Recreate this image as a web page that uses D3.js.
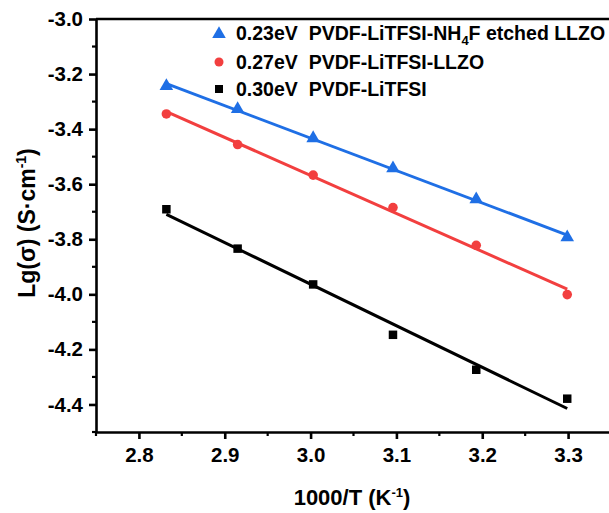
<!DOCTYPE html>
<meta charset="utf-8">
<style>
body { margin: 0; background: #fff; }
svg { font-family: "Liberation Sans", Arial, sans-serif; font-weight: bold; }
.axis path, .axis line { stroke: #000; stroke-width: 2.6; }
.axis text { font-size: 20.5px; font-weight: bold; fill: #000; }
.minor line { stroke: #000; stroke-width: 2.2; }
.fit { fill: none; stroke-width: 3; }
.legend text { font-size: 19.5px; white-space: pre; }
</style>
<svg width="609" height="513"></svg>
<script src="https://cdn.jsdelivr.net/npm/d3@7/dist/d3.min.js"></script>
<script>

var invT = [2.832, 2.915, 3.003, 3.096, 3.193, 3.299];

var etched = [-3.244, -3.327, -3.433, -3.542, -3.655, -3.793];
var llzo   = [-3.345, -3.456, -3.567, -3.685, -3.822, -4.001];
var bare   = [-3.691, -3.834, -3.964, -4.147, -4.274, -4.379];

var seriesNames = ["etched", "llzo", "bare"];
var energies = ["0.23eV", "0.27eV", "0.30eV"];
var labels = ["PVDF-LiTFSI-NH|4|F etched LLZO", "PVDF-LiTFSI-LLZO", "PVDF-LiTFSI"];
var colors = ["#1f6fe5", "#f23f3f", "#000000"];
var shapes = [d3.symbolTriangle, d3.symbolCircle, d3.symbolSquare];

var xTicks = [2.8, 2.9, 3.0, 3.1, 3.2, 3.3];
var yTicks = [-3.0, -3.2, -3.4, -3.6, -3.8, -4.0, -4.2, -4.4];

var svg = d3.select("svg");

var x = d3.scaleLinear().domain([2.75, 3.35]).range([96, 611]);
var y = d3.scaleLinear().domain([-4.5, -3.0]).range([432, 19]);

var series = [etched, llzo, bare];

// frame: top and right lines
svg.append("line").attr("x1", x.range()[0]).attr("x2", x.range()[1])
    .attr("y1", y(-3.0)).attr("y2", y(-3.0))
    .attr("stroke", "#000").attr("stroke-width", 2.6);
svg.append("line").attr("x1", x.range()[1]).attr("x2", x.range()[1])
    .attr("y1", y.range()[0]).attr("y2", y.range()[1])
    .attr("stroke", "#000").attr("stroke-width", 2.6);

// minor ticks
svg.append("g").attr("class", "minor")
    .selectAll("line")
    .data(d3.range(2.75, 3.36, 0.1))
  .enter().append("line")
    .attr("x1", function(d) { return x(d); })
    .attr("x2", function(d) { return x(d); })
    .attr("y1", y.range()[0]).attr("y2", y.range()[0] + 4);
svg.append("g").attr("class", "minor")
    .selectAll("line")
    .data(d3.range(-4.5, -3.0, 0.2))
  .enter().append("line")
    .attr("y1", function(d) { return y(d); })
    .attr("y2", function(d) { return y(d); })
    .attr("x1", x.range()[0]).attr("x2", x.range()[0] - 4);

svg.append("g").attr("class", "axis")
    .attr("transform", "translate(0," + y.range()[0] + ")")
    .call(d3.axisBottom(x).tickValues(xTicks).tickSize(7).tickPadding(8)
      .tickSizeOuter(0).tickFormat(d3.format(".1f")));

svg.append("g").attr("class", "axis")
    .attr("transform", "translate(" + x.range()[0] + ",0)")
    .call(d3.axisLeft(y).tickValues(yTicks).tickSize(7).tickPadding(6)
      .tickSizeOuter(0).tickFormat(function(d) { return d3.format(".1f")(d).replace("−", "-"); }));

// fit lines (least squares)
function fit(ys) {
  var mx = d3.mean(invT), my = d3.mean(ys), sxy = 0, sxx = 0;
  invT.forEach(function(v, i) { sxy += (v - mx) * (ys[i] - my); sxx += (v - mx) * (v - mx); });
  var b = sxy / sxx;
  return [invT[0], invT[invT.length - 1]].map(function(v) { return [v, my + b * (v - mx)]; });
}

var line = d3.line().x(function(d) { return x(d[0]); }).y(function(d) { return y(d[1]); });

series.forEach(function(ys, k) {
  svg.append("path").attr("class", "fit")
      .attr("stroke", colors[k])
      .attr("d", line(fit(ys)));
  svg.append("g").selectAll("path")
      .data(ys)
    .enter().append("path")
      .attr("transform", function(d, i) { return "translate(" + x(invT[i]) + "," + y(d) + ")"; })
      .attr("fill", colors[k])
      .attr("d", d3.symbol().type(shapes[k]).size(k == 0 ? 80 : 72));
});

// legend
var legendY = [33, 62, 89];
var lg = svg.append("g").attr("class", "legend");
seriesNames.forEach(function(n, k) {
  lg.append("path")
      .attr("transform", "translate(219," + (legendY[k] + (k == 0 ? 1 : 0)) + ")")
      .attr("fill", colors[k])
      .attr("d", d3.symbol().type(shapes[k]).size(k == 0 ? 80 : 64));
  var t = lg.append("text").attr("x", 236).attr("y", legendY[k]).attr("dy", "0.35em");
  t.append("tspan").text(energies[k] + "  ");
  labels[k].split("|").forEach(function(part, j) {
    var s = t.append("tspan").text(part);
    if (j == 1) s.attr("font-size", "13px").attr("dy", "5");
    if (j == 2) s.attr("dy", "-5");
  });
});

// axis titles
var yt = svg.append("text")
    .attr("transform", "translate(35,223) rotate(-90)")
    .attr("text-anchor", "middle")
    .attr("font-size", "23px");
yt.append("tspan").text("Lg(σ) (S·cm");
yt.append("tspan").text("-1").attr("font-size", "14px").attr("dy", "-9");
yt.append("tspan").text(")").attr("dy", "9");

var xt = svg.append("text")
    .attr("x", 352).attr("y", 505)
    .attr("text-anchor", "middle")
    .attr("font-size", "22px");
xt.append("tspan").text("1000/T (K");
xt.append("tspan").text("-1").attr("font-size", "13px").attr("dy", "-8");
xt.append("tspan").text(")").attr("dy", "8");

</script>
